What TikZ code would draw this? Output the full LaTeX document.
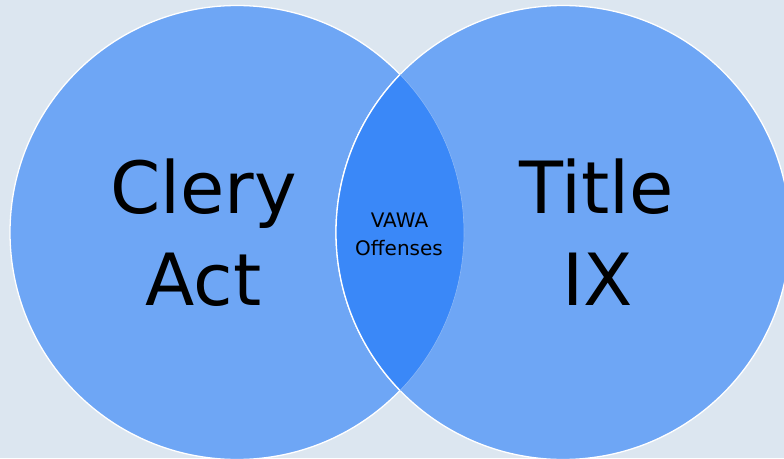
\documentclass[tikz,border=0pt]{standalone}
\usepackage{fontspec}
\setmainfont{DejaVu Sans}
\definecolor{bgc}{HTML}{DCE6F0}
\definecolor{circc}{HTML}{6EA6F5}
\definecolor{lensc}{HTML}{3A88F8}
\tikzset{
  setbox/.style={fill=circc, draw=white, line width=1.3pt},
  bigtext/.style={font=\fontsize{72}{92}\selectfont, text=black, inner sep=0pt, anchor=base},
  smalltext/.style={font=\fontsize{20}{28}\selectfont, text=black, inner sep=0pt, anchor=base}
}
\begin{document}
\begin{tikzpicture}[x=1pt,y=-1pt]
\fill[bgc] (0,0) rectangle (784,458);
\useasboundingbox (0,0) rectangle (784,458);
\coordinate (cl) at (237,232.5);
\coordinate (cr) at (563,232.5);
\path[setbox] (cl) circle (227);
\path[setbox] (cr) circle (227);
\begin{scope}
  \clip (cl) circle (227);
  \fill[lensc] (cr) circle (227);
\end{scope}
\begin{scope}
  \clip (cr) circle (227);
  \draw[circc!80!white, line width=0.6pt] (cl) circle (227);
\end{scope}
\begin{scope}
  \clip (cl) circle (227);
  \draw[white, line width=1.3pt] (cr) circle (227);
\end{scope}
\node[bigtext] (clery) at (203.5,213) {Clery};
\node[bigtext] (act) at (203.5,305) {Act};
\node[bigtext] (title) at (597,213) {Title};
\node[bigtext] (ix) at (598,305) {IX};
\node[smalltext] (vawa) at (399.5,227) {VAWA};
\node[smalltext] (offenses) at (399,255) {Offenses};
\end{tikzpicture}
\end{document}
